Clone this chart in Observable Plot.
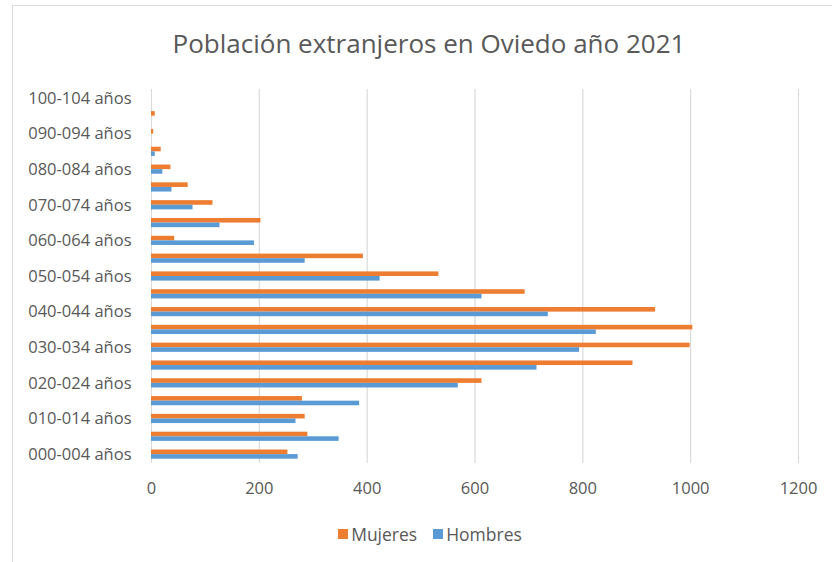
<!DOCTYPE html>
<html>
<head>
<meta charset="utf-8">
<script src="https://cdn.jsdelivr.net/npm/d3@7"></script>
<script src="https://cdn.jsdelivr.net/npm/@observablehq/plot@0.6"></script>
<style>
  html, body { margin: 0; padding: 0; background: #fff; }
  #wrap { position: relative; width: 832px; height: 562px; overflow: hidden; background: #fff; font-family: "Open Sans", sans-serif; }
  #frame { position: absolute; left: 12px; top: 5px; width: 900px; height: 700px; border: 1px solid #d9d9d9; box-sizing: border-box; }
  #title { position: absolute; left: 0; width: 858px; top: 25px; text-align: center; font-size: 26px; line-height: 36px; color: #595959; font-weight: 400; white-space: nowrap; }
  #chart { position: absolute; left: 0; top: 0; }
  #legend { position: absolute; left: 0; width: 860px; top: 522px; display: flex; justify-content: center; align-items: center; font-size: 17.5px; line-height: 24px; color: #595959; }
  .item { display: flex; align-items: center; margin: 0 8px; }
  .sw { width: 10px; height: 10px; margin-right: 3px; display: inline-block; }
</style>
</head>
<body>
<div id="wrap">
  <div id="frame"></div>
  <div id="chart"></div>
  <div id="title">Población extranjeros en Oviedo año 2021</div>
  <div id="legend"></div>
</div>
<script>
const categories = [
  "000-004 años", "005-009 años", "010-014 años", "015-019 años", "020-024 años",
  "025-029 años", "030-034 años", "035-039 años", "040-044 años", "045-049 años",
  "050-054 años", "055-059 años", "060-064 años", "065-069 años", "070-074 años",
  "075-079 años", "080-084 años", "085-089 años", "090-094 años", "095-099 años",
  "100-104 años"
];
const mujeres = [253, 290, 285, 280, 613, 893, 999, 1004, 935, 693, 533, 393, 43, 203, 114, 68, 36, 18, 4, 7, 0];
const hombres = [272, 348, 268, 386, 569, 715, 794, 825, 736, 613, 424, 285, 191, 127, 77, 38, 21, 7, 0, 0, 0];
const seriesNames = ["Mujeres", "Hombres"];
const seriesColors = ["#ED7D31", "#5B9BD5"];
const xTicks = [0, 200, 400, 600, 800, 1000, 1200];

const rowsM = categories.map((c, i) => ({cat: c, value: mujeres[i]}));
const rowsH = categories.map((c, i) => ({cat: c, value: hombres[i]}));

const H = 510, mTop = 89, mBottom = 47;
const bw = (H - mTop - mBottom) / categories.length;
const barH = 4.6;

const chart = Plot.plot({
  width: 832,
  height: H,
  marginTop: mTop,
  marginBottom: mBottom,
  marginLeft: 151,
  marginRight: 34,
  style: {fontFamily: "'Open Sans', sans-serif", fontSize: "16.5px", color: "#595959", background: "transparent"},
  x: {domain: [0, 1200], ticks: xTicks, grid: true, label: null, tickSize: 0, tickPadding: 19, tickFormat: d => String(d)},
  y: {domain: categories.slice().reverse(), padding: 0, round: false, label: null, tickSize: 0, tickPadding: 20,
      tickFormat: d => categories.indexOf(d) % 2 === 0 ? d : ""},
  marks: [
    Plot.gridX(xTicks, {stroke: "#d9d9d9", strokeOpacity: 1, strokeWidth: 1}),
    Plot.barX(rowsM, {x: "value", y: "cat", fill: seriesColors[0], insetTop: bw / 2 - barH, insetBottom: bw / 2}),
    Plot.barX(rowsH, {x: "value", y: "cat", fill: seriesColors[1], insetTop: bw / 2, insetBottom: bw / 2 - barH})
  ]
});
document.getElementById("chart").appendChild(chart);

const legend = document.getElementById("legend");
seriesNames.forEach((n, i) => {
  const it = document.createElement("div");
  it.className = "item";
  const sw = document.createElement("span");
  sw.className = "sw";
  sw.style.background = seriesColors[i];
  it.appendChild(sw);
  it.appendChild(document.createTextNode(n));
  legend.appendChild(it);
});
</script>
</body>
</html>
